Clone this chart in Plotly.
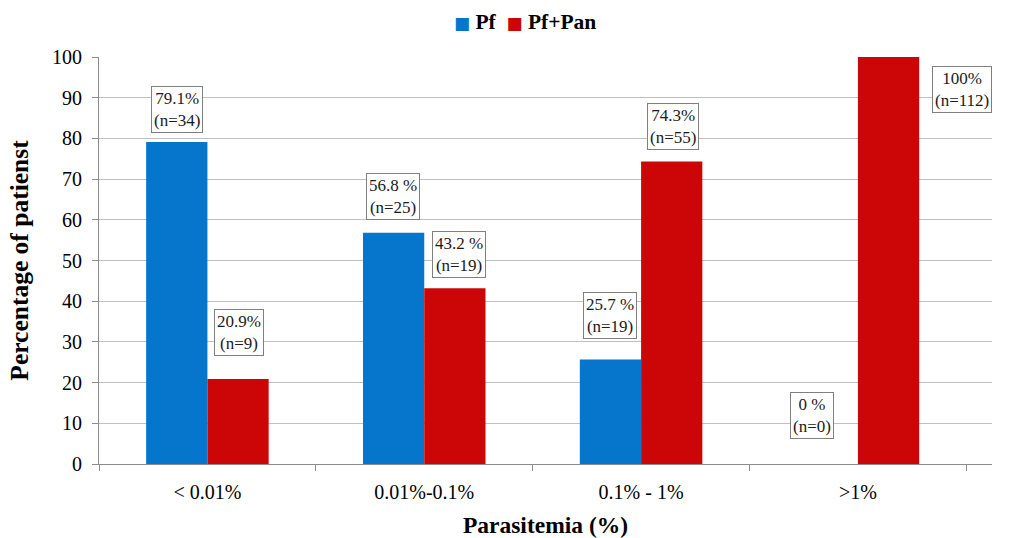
import plotly.graph_objects as go

# Parasitemia groups and share of patients per species group
categories = ["< 0.01%", "0.01%-0.1%", "0.1% - 1%", ">1%"]
series_names = ["Pf", "Pf+Pan"]
pf_pct = [79.1, 56.8, 25.7, 0]
pfpan_pct = [20.9, 43.2, 74.3, 100]
pf_n = [34, 25, 19, 0]
pfpan_n = [9, 19, 55, 112]
# label text for each series ("%" spacing as printed)
pf_fmt = ["{}%", "{} %", "{} %", "{} %"]
pfpan_fmt = ["{}%", "{} %", "{}%", "{}%"]

BLUE = "#0675CC"
RED = "#CC0606"
FONT = "Liberation Serif, Times New Roman, serif"

fig = go.Figure()
fig.add_trace(go.Bar(name=series_names[0], x=categories, y=pf_pct, marker_color=BLUE,
                     marker_line_width=0))
fig.add_trace(go.Bar(name=series_names[1], x=categories, y=pfpan_pct, marker_color=RED,
                     marker_line_width=0))

# label placement: (x offset from group centre, y offset above value)
pf_label_pos = [(-0.142, 8.1), (-0.142, 9.0), (-0.142, 10.7), (-0.21, 11.8)]
pfpan_label_pos = [(0.145, 11.3), (0.162, 8.2), (0.148, 8.7), (0.48, -8.1)]


def fmt_val(v):
    return "%g" % v


annotations = []
for i in range(len(categories)):
    for vals, ns, fmts, pos in ((pf_pct, pf_n, pf_fmt, pf_label_pos),
                                (pfpan_pct, pfpan_n, pfpan_fmt, pfpan_label_pos)):
        dx, dy = pos[i]
        text = fmts[i].format(fmt_val(vals[i])) + "<br>(n=%d)" % ns[i]
        annotations.append(dict(
            x=i + dx, y=vals[i] + dy, xref="x", yref="y", text=text,
            showarrow=False, font=dict(family=FONT, size=17, color="#1a1a1a"),
            bgcolor="white", bordercolor="#7f7f7f", borderwidth=1, borderpad=2,
            align="center",
        ))

# compact legend row above the plot
sq = "<span style='color:{c};font-family:DejaVu Sans;font-size:17px'>■</span>"
legend_text = (sq.format(c=BLUE) + " " + series_names[0] + "&nbsp;&nbsp;"
               + sq.format(c=RED) + " " + series_names[1])
annotations.append(dict(
    x=0.4765, y=1.086, xref="paper", yref="paper", xanchor="center", yanchor="middle",
    text="<b>" + legend_text + "</b>", showarrow=False,
    font=dict(family=FONT, size=21.5, color="black"),
))

fig.update_layout(
    width=1021, height=538,
    margin=dict(l=99, r=29, t=57, b=74, autoexpand=False),
    paper_bgcolor="white", plot_bgcolor="white",
    barmode="group", bargap=0.435, bargroupgap=0,
    font=dict(family=FONT, color="black"),
    showlegend=False,
    annotations=annotations,
)

fig.update_xaxes(
    automargin=False,
    showgrid=False, showline=True, linecolor="#8c8c8c", linewidth=1,
    ticks="outside", tickson="boundaries", ticklen=6, tickcolor="#8c8c8c",
    tickfont=dict(family=FONT, size=20, color="black"), ticklabelstandoff=10,
    title=dict(text="Parasitemia (%)", font=dict(family=FONT, size=23.5, color="black", weight="bold"),
               standoff=14),
)
fig.update_yaxes(
    automargin=False,
    range=[0, 100], dtick=10, showgrid=True, gridcolor="#c0c0c0", gridwidth=1,
    showline=True, linecolor="#8c8c8c", linewidth=1, zeroline=False,
    ticks="outside", ticklen=6, tickcolor="#8c8c8c",
    tickfont=dict(family=FONT, size=20, color="black"), ticklabelstandoff=6,
    title=dict(text="Percentage of patienst", font=dict(family=FONT, size=25.5, color="black", weight="bold"),
               standoff=16),
)

fig.write_html("out.html")
